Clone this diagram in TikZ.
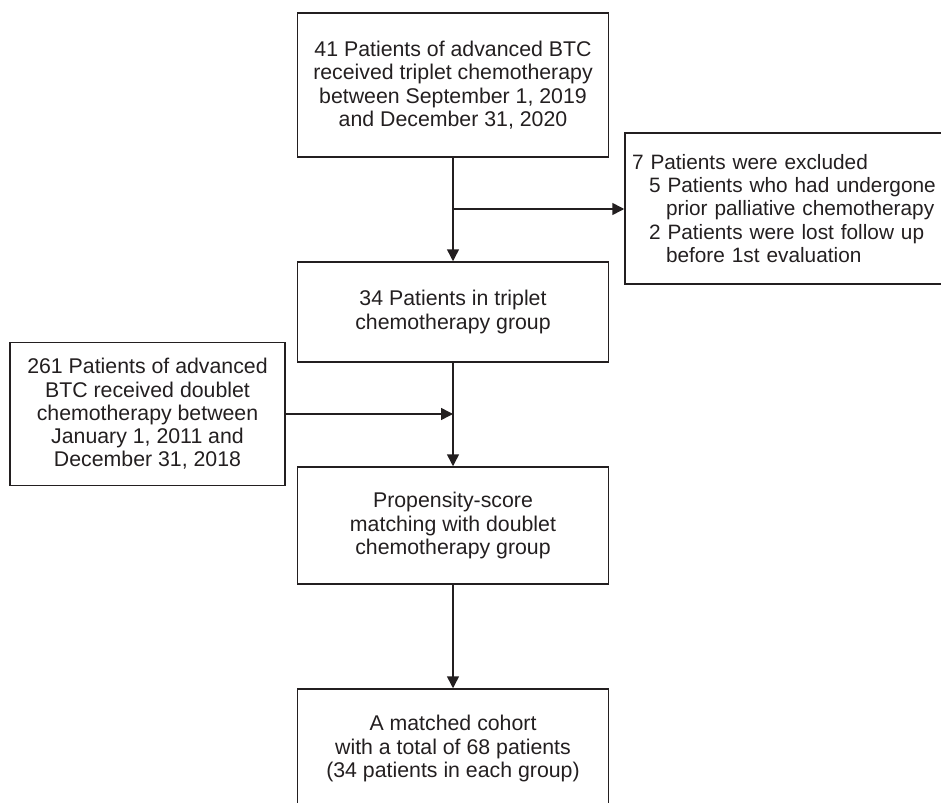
\documentclass[tikz,border=0pt]{standalone}
\usepackage{fontspec}
\setmainfont{Liberation Sans}
\usetikzlibrary{arrows.meta}
\definecolor{ink}{HTML}{231F20}
\begin{document}
\begin{tikzpicture}[x=1pt,y=-1pt,
  box/.style={draw=ink, line width=1.5pt, rectangle, inner sep=0pt, align=center, text=ink,
              font=\fontsize{21.3}{23.3}\selectfont},
  conn/.style={draw=ink, line width=1.5pt, -{Triangle[width=12pt,length=12pt]}}]
\useasboundingbox (0,0) rectangle (941,802);
\begin{scope}
\clip (0,0) rectangle (941,802);
\node[box, minimum width=310.6pt, minimum height=144pt] (b1) at (453,85)
  {41 Patients of advanced BTC\\received triplet chemotherapy\\between September 1, 2019\\and December 31, 2020};
\node[box, align=left, text width=340pt, inner xsep=7pt, minimum height=151pt,
      font=\fontsize{20.8}{23.3}\selectfont] (rb) at (802,208.5)
  {\hyphenpenalty=10000 7 Patients were excluded\\
   \hspace*{17pt}5 Patients who had undergone\\
   \hspace*{34pt}prior palliative chemotherapy\\
   \hspace*{17pt}2 Patients were lost follow up\\
   \hspace*{34pt}before 1st evaluation};
\node[box, minimum width=310.6pt, minimum height=100pt] (b2) at (453,312)
  {34 Patients in triplet\\chemotherapy group};
\node[box, minimum width=275pt, minimum height=143pt] (lb) at (147.5,414)
  {261 Patients of advanced\\BTC received doublet\\chemotherapy between\\January 1, 2011 and\\December 31, 2018};
\node[box, minimum width=310.6pt, minimum height=117pt] (b3) at (453,525.5)
  {Propensity-score\\matching with doublet\\chemotherapy group};
\node[box, minimum width=310.6pt, minimum height=119pt] (b4) at (453,748.5)
  {A matched cohort\\with a total of 68 patients\\(34 patients in each group)};
\coordinate (j1) at (453,209);
\draw[conn] (b1.south) -- (b2.north);
\draw[conn] (j1) -- (j1 -| rb.west);
\draw[conn] (b2.south) -- (b3.north);
\draw[conn] (lb.east) -- (lb.east -| b2.south);
\draw[conn] (b3.south) -- (b4.north);
\end{scope}
\end{tikzpicture}
\end{document}
